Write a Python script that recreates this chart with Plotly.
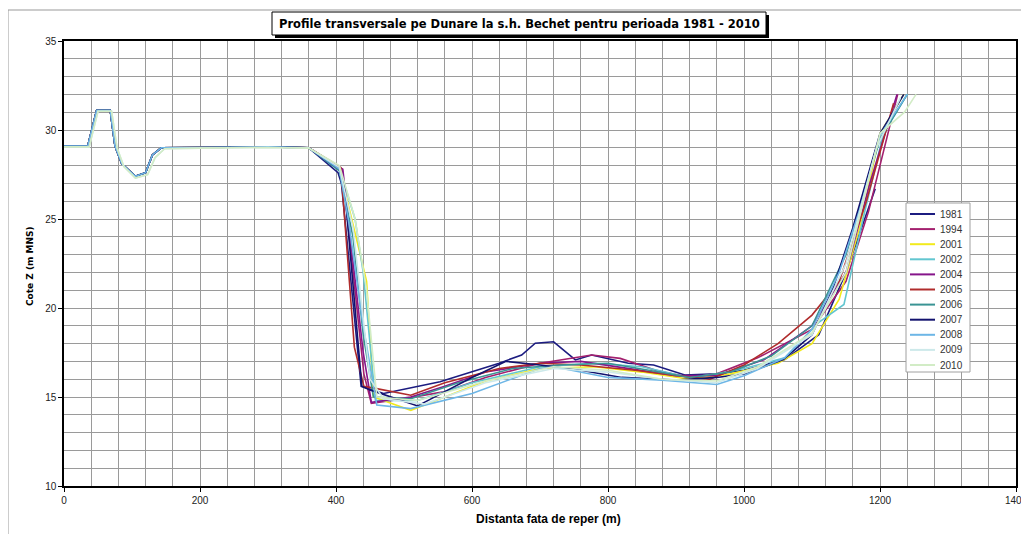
import plotly.graph_objects as go

# Left bank shared by surveys 1981-2008
left_x = [0, 35, 48, 68, 75, 85, 105, 120, 130, 143, 200, 300, 360]
left_y = [29.1, 29.1, 31.1, 31.1, 29.1, 28.1, 27.4, 27.6, 28.6, 29.0, 29.02, 29.05, 29.0]
# Left bank of surveys 2009-2010 (slightly offset)
left2_x = [0, 37, 50, 70, 78, 88, 105, 123, 134, 148, 200, 300, 360]
left2_y = [29.05, 29.05, 31.05, 31.05, 29.0, 27.95, 27.3, 27.5, 28.45, 28.95, 28.98, 29.02, 28.98]

years = ["1981", "1994", "2001", "2002", "2004", "2005", "2006", "2007", "2008", "2009", "2010"]

x_1981 = [403, 408, 437, 470, 553, 640, 673, 693, 720, 752, 776, 830, 867, 913, 960, 1000, 1060, 1110, 1150, 1193]
y_1981 = [27.6, 27.0, 15.6, 15.2, 15.86, 16.9, 17.36, 18.02, 18.1, 17.08, 17.36, 16.9, 16.8, 16.24, 16.3, 16.5, 17.1, 18.5, 22.0, 26.7]

x_1994 = [409, 441, 452, 500, 560, 620, 700, 776, 818, 870, 920, 960, 1020, 1100, 1150, 1183, 1226]
y_1994 = [27.8, 16.3, 14.64, 14.9, 15.3, 16.1, 16.9, 17.36, 17.17, 16.5, 16.1, 16.3, 17.2, 18.8, 21.5, 25.4, 32.0]

x_2001 = [405, 420, 445, 455, 510, 560, 620, 700, 780, 850, 920, 980, 1050, 1100, 1140, 1170, 1200, 1235]
y_2001 = [27.9, 25.5, 21.5, 15.0, 14.25, 15.0, 15.9, 16.6, 16.7, 16.4, 16.0, 16.3, 16.9, 18.0, 20.5, 24.5, 29.8, 32.0]

x_2002 = [405, 420, 428, 440, 458, 520, 600, 700, 780, 850, 920, 960, 1000, 1060, 1110, 1147, 1175, 1205, 1240]
y_2002 = [27.9, 26.0, 25.0, 22.0, 14.8, 14.8, 15.8, 16.7, 16.9, 16.7, 16.1, 16.3, 16.6, 17.2, 19.2, 20.2, 25.0, 29.8, 32.0]

x_2004 = [410, 440, 452, 510, 560, 620, 700, 760, 830, 900, 960, 1030, 1100, 1150, 1185, 1225]
y_2004 = [27.8, 17.5, 14.7, 15.0, 15.6, 16.4, 16.9, 17.0, 16.6, 16.2, 16.2, 17.1, 19.0, 22.0, 27.0, 32.0]

x_2005 = [407, 427, 441, 456, 510, 560, 640, 700, 760, 840, 900, 950, 1000, 1050, 1100, 1140, 1180, 1220]
y_2005 = [27.9, 17.8, 15.6, 15.5, 15.1, 15.8, 16.6, 16.9, 16.8, 16.5, 16.2, 16.0, 16.8, 18.0, 19.6, 21.5, 26.0, 31.5]

x_2006 = [405, 425, 440, 455, 510, 580, 660, 730, 800, 860, 920, 980, 1040, 1100, 1150, 1200, 1240]
y_2006 = [27.7, 24.0, 18.5, 15.0, 14.9, 15.8, 16.6, 16.8, 16.9, 16.5, 16.1, 16.4, 17.3, 19.0, 23.0, 29.5, 32.0]

x_2007 = [405, 412, 438, 450, 520, 560, 600, 650, 700, 760, 820, 900, 960, 1000, 1058, 1100, 1130, 1160, 1200, 1235]
y_2007 = [27.8, 27.0, 15.6, 15.4, 14.5, 15.3, 16.1, 17.0, 16.8, 16.5, 16.1, 15.95, 16.1, 16.3, 17.1, 18.5, 21.0, 24.5, 29.8, 32.0]

x_2008 = [405, 418, 440, 460, 510, 600, 700, 720, 800, 880, 960, 1000, 1060, 1100, 1140, 1170, 1200, 1240]
y_2008 = [27.8, 25.0, 19.0, 14.55, 14.35, 15.2, 16.6, 16.7, 16.1, 15.95, 15.7, 16.2, 17.2, 18.8, 22.0, 25.5, 29.7, 32.0]

x_2009 = [405, 425, 450, 470, 530, 620, 720, 800, 880, 960, 1020, 1100, 1150, 1195, 1230]
y_2009 = [27.9, 24.5, 16.0, 14.9, 14.6, 15.8, 16.6, 16.4, 16.0, 15.8, 16.6, 18.5, 22.5, 29.0, 31.8]

x_2010 = [405, 428, 445, 460, 520, 620, 720, 800, 880, 960, 1020, 1100, 1150, 1200, 1236, 1253]
y_2010 = [28.0, 25.0, 21.0, 15.0, 14.8, 15.9, 16.7, 16.5, 16.0, 15.9, 16.7, 18.6, 22.0, 29.8, 31.0, 32.0]

colors = ["#1c1c80", "#a3206e", "#f2ea1c", "#62c6d0", "#86158a", "#b02c2c",
          "#3a9494", "#12126e", "#6db6e6", "#cde9ea", "#d2ecc6"]

series_x = [x_1981, x_1994, x_2001, x_2002, x_2004, x_2005, x_2006, x_2007, x_2008, x_2009, x_2010]
series_y = [y_1981, y_1994, y_2001, y_2002, y_2004, y_2005, y_2006, y_2007, y_2008, y_2009, y_2010]

fig = go.Figure()
for yr, xs, ys, c in zip(years, series_x, series_y, colors):
    lx, ly = (left2_x, left2_y) if yr in ("2009", "2010") else (left_x, left_y)
    fig.add_trace(go.Scatter(x=lx + xs, y=ly + ys, mode="lines", name=yr,
                             line=dict(color=c, width=1.6), showlegend=False))

# page body has an 8px margin: work in window pixels, shift by OFF
OFF = 8
W, H = 1029 - OFF, 534 - OFF
L, R, T, B = 64, 1016, 41, 486          # plot area in window pixels
def px(x): return (x - L) / (R - L)
def py(y): return (B - y) / (B - T)

grid = "#9a9a9a"
axis_common = dict(showgrid=True, gridcolor=grid, gridwidth=1, automargin=False,
                   showline=True, linecolor="black", linewidth=1.5, mirror=True,
                   ticks="outside", ticklen=4, tickcolor="black", zeroline=False,
                   tickfont=dict(size=10, color="#222"))
fig.update_layout(
    width=W, height=H,
    margin=dict(l=L - OFF, r=W - (R - OFF), t=T - OFF, b=H - (B - OFF), autoexpand=False),
    paper_bgcolor="white", plot_bgcolor="white",
    font=dict(family="Liberation Sans, Arial", size=10, color="#222"),
    showlegend=False,
    xaxis=dict(range=[0, 1400], dtick=200, tick0=0,
               minor=dict(dtick=40, showgrid=True, gridcolor=grid, gridwidth=1), **axis_common),
    yaxis=dict(range=[10, 35], dtick=5, tick0=10,
               minor=dict(dtick=1, showgrid=True, gridcolor=grid, gridwidth=1), **axis_common),
)

shapes = [
    # outer frame
    dict(type="rect", xref="paper", yref="paper", x0=px(8), x1=px(1080), y0=py(580), y1=py(10),
         line=dict(color="#999", width=1), fillcolor="rgba(0,0,0,0)", layer="below"),
    # title shadow
    dict(type="rect", xref="paper", yref="paper", x0=px(275), x1=px(769), y0=py(38), y1=py(15),
         line=dict(width=0), fillcolor="black"),
    # title box
    dict(type="rect", xref="paper", yref="paper", x0=px(272), x1=px(766), y0=py(35), y1=py(12),
         line=dict(color="black", width=1), fillcolor="white"),
    # legend box
    dict(type="rect", xref="paper", yref="paper", x0=px(906), x1=px(970), y0=py(372), y1=py(203),
         line=dict(color="#a0a0a0", width=1), fillcolor="white"),
]
annotations = []
for i, (yr, c) in enumerate(zip(years, colors)):
    yy = 214 + i * 15.1
    shapes.append(dict(type="line", xref="paper", yref="paper", x0=px(910), x1=px(935),
                       y0=py(yy), y1=py(yy), line=dict(color=c, width=2)))
    annotations.append(dict(x=px(938), y=py(yy), xref="paper", yref="paper", showarrow=False,
                            text=yr, xanchor="left", yanchor="middle",
                            font=dict(size=10, color="#333")))

annotations += [
    dict(x=px(519), y=py(23.5), xref="paper", yref="paper", showarrow=False,
         text="<b>Profile transversale pe Dunare la s.h. Bechet pentru perioada 1981 - 2010</b>",
         font=dict(family="DejaVu Sans", size=11.5, color="black"), xanchor="center", yanchor="middle"),
    dict(x=px(548), y=py(519), xref="paper", yref="paper", showarrow=False,
         text="<b>Distanta fata de reper (m)</b>", font=dict(size=12, color="black"),
         xanchor="center", yanchor="middle"),
    dict(x=px(30), y=py(266), xref="paper", yref="paper", showarrow=False,
         text="<b>Cote Z (m MNS)</b>", textangle=-90,
         font=dict(family="DejaVu Sans", size=9, color="black"),
         xanchor="center", yanchor="middle"),
]
fig.update_layout(shapes=shapes, annotations=annotations)

fig.write_html("out.html")
